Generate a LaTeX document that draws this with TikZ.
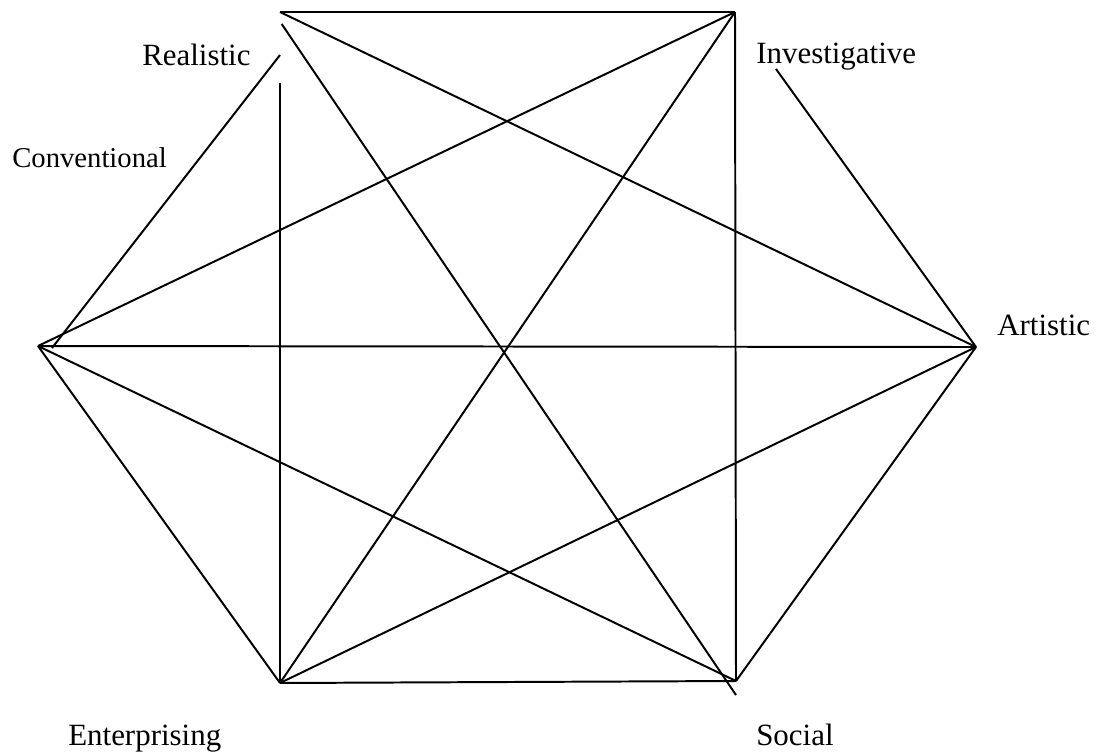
\documentclass[tikz,border=0pt]{standalone}
\usepackage{fontspec}
\setmainfont{Liberation Serif}
\usetikzlibrary{positioning,calc}

\begin{document}
\begin{tikzpicture}[
  x=0.025cm, y=-0.025cm,
  type/.style={inner sep=0pt, anchor=base west, font=\fontsize{22}{26}\selectfont},
  smalltype/.style={type, font=\fontsize{20.4}{24}\selectfont},
  link/.style={line width=1.4pt, line cap=butt}
]
\useasboundingbox (0,0) rectangle (1099,752);
% corners of the hexagon
\coordinate (R) at (280,12);
\coordinate (I) at (735,12);
\coordinate (A) at (976,347);
\coordinate (S) at (736,681);
\coordinate (E) at (280,683);
\coordinate (C) at (38,346);
% loose line ends
\coordinate (Rtop) at (280,83);
\coordinate (Rside) at (280,55);
\coordinate (Rdiag) at (281.7,24);
\coordinate (Cside) at (52,348);
\coordinate (Iside) at ($(I)!0.17!(A)$);
\coordinate (Sover) at (736,695);
% labels
\node[type] (real) at (142,65) {Realistic};
\node[type] (inv) at (756,63) {Investigative};
\node[smalltype] (conv) at (12,167) {Conventional};
\node[type] (art) at (997,335) {Artistic};
\node[type] (ent) at (68,745) {Enterprising};
\node[type] (soc) at (756,745) {Social};
% outline
\draw[link] (R) -- (I);
\draw[link] (Iside) -- (A);
\draw[link] (A) -- (S);
\draw[link] (S) -- (E);
\draw[link] (E) -- (C);
\draw[link] (Cside) -- (Rside);
% diagonals
\draw[link] (Rdiag) -- (Sover);
\draw[link] (R) -- (A);
\draw[link] (Rtop) -- (E);
\draw[link] (I) -- (C);
\draw[link] (I) -- (E);
\draw[link] (I) -- (S);
\draw[link] (C) -- (A);
\draw[link] (C) -- (S);
\draw[link] (E) -- (A);
\end{tikzpicture}
\end{document}
